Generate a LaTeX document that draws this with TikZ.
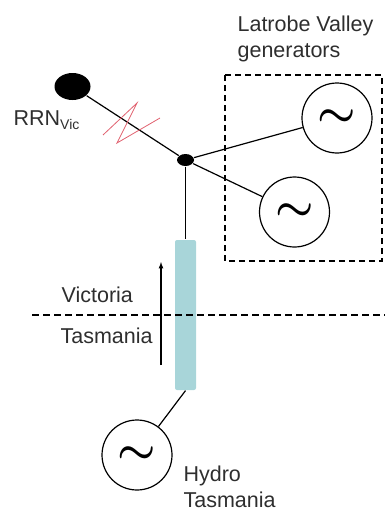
\documentclass[tikz,border=0pt]{standalone}
\usepackage{fontspec}
\setmainfont{Liberation Sans}
\usepackage{graphicx}
\usetikzlibrary{shapes.geometric}
\tikzset{>=latex}
\definecolor{cable}{HTML}{A8D5D9}
\definecolor{fault}{HTML}{E0606E}
\definecolor{ink}{HTML}{2E2E2E}
\tikzset{gen/.style={circle, draw, line width=1.2pt, minimum size=70pt, inner sep=0pt},
  lbl/.style={text=ink, inner sep=0pt, font=\fontsize{21.5}{26}\selectfont},
  bus/.style={ellipse, fill, inner sep=0pt}}
\newcommand{\acgen}{\scalebox{4.3}{\boldmath$\sim$}}

\begin{document}
\begin{tikzpicture}[x=1pt, y=-1pt, line width=1.2pt]
            \useasboundingbox (0,0) rectangle (385,511);
            \node[bus, minimum width=36pt, minimum height=27pt] (rrn) at (72.5,86.5) {};
            \node[bus, minimum width=17pt, minimum height=12pt] (hub) at (185.5,160) {};
            \node[gen] (lv1) at (337,118) {\acgen};
            \node[gen] (lv2) at (294.5,212) {\acgen};
            \node[gen] (hydro) at (137,455) {\acgen};
            \node[fill=cable, rounded corners=2pt, minimum width=21pt, minimum height=150pt, inner sep=0pt] (bass) at (185.5,315) {};
            \draw (rrn) -- (hub);
            \draw (hub) -- (lv1);
            \draw (hub) -- (lv2);
            \draw (hub) -- (bass.north);
            \draw (bass.south) -- (hydro);
            \draw[fault, line width=0.8pt] (103,135) -- (137,103) -- (117,143) -- (160,118);
            \draw[dash pattern=on 6pt off 4pt] (225,75) rectangle (382,261);
            \draw[dash pattern=on 7pt off 4pt] (32,315) -- (385,315);
            \draw[->] (161,365) -- (161,262);
            \node[lbl, anchor=base west, align=left] (lvlbl) at (237,58) {Latrobe Valley\\generators};
            \node[lbl, anchor=base west] (rrnlbl) at (13,125) {RRN\raisebox{-4pt}{\fontsize{14}{14}\selectfont Vic}};
            \node[lbl, anchor=base west] (vic) at (61,302) {Victoria};
            \node[lbl, anchor=base west] (tas) at (60,343) {Tasmania};
            \node[lbl, anchor=base west, align=left] (htlbl) at (183,507) {Hydro\\Tasmania};
        \end{tikzpicture}
\end{document}
